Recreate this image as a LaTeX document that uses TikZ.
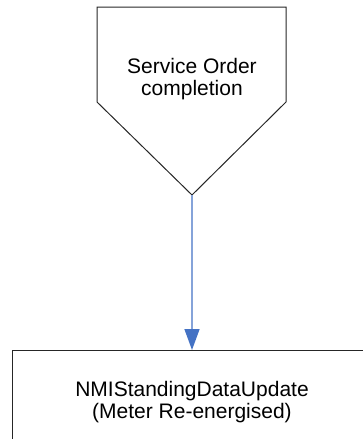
\documentclass[tikz,border=0pt]{standalone}
\usepackage{fontspec}
\setmainfont{Liberation Sans}
\usetikzlibrary{arrows.meta}
\definecolor{flowblue}{HTML}{4472C4}
\tikzset{
  outline/.style={draw=black!85, line width=1pt},
  label text/.style={font=\fontsize{21}{22}\selectfont, align=center, inner sep=0pt},
  flow/.style={draw=flowblue!65, line width=1.5pt,
    -{Triangle[length=21pt,width=15pt,color=flowblue]}},
}
\begin{document}
\begin{tikzpicture}[x=1pt,y=-1pt]
  \useasboundingbox (0,0) rectangle (363,439);
  % off-page connector
  \coordinate (tl) at (97,7);
  \coordinate (tr) at (286,7);
  \coordinate (rs) at (286,102);
  \coordinate (tip) at (192,195);
  \coordinate (ls) at (97,102);
  \draw[outline, line join=miter] (tl) -- (tr) -- (rs) -- (tip) -- (ls) -- cycle;
  \node[label text] (soc) at (192,79) {Service Order\\completion};
  % process box
  \node[outline, label text, minimum width=360pt, minimum height=105pt,
        anchor=north] (nmi) at (192,350) {};
  \node[label text] (nmitext) at (192,402.5) {NMIStandingDataUpdate\\(Meter Re-energised)};
  % connector
  \draw[flow] (tip) -- (nmi.north);
\end{tikzpicture}
\end{document}
